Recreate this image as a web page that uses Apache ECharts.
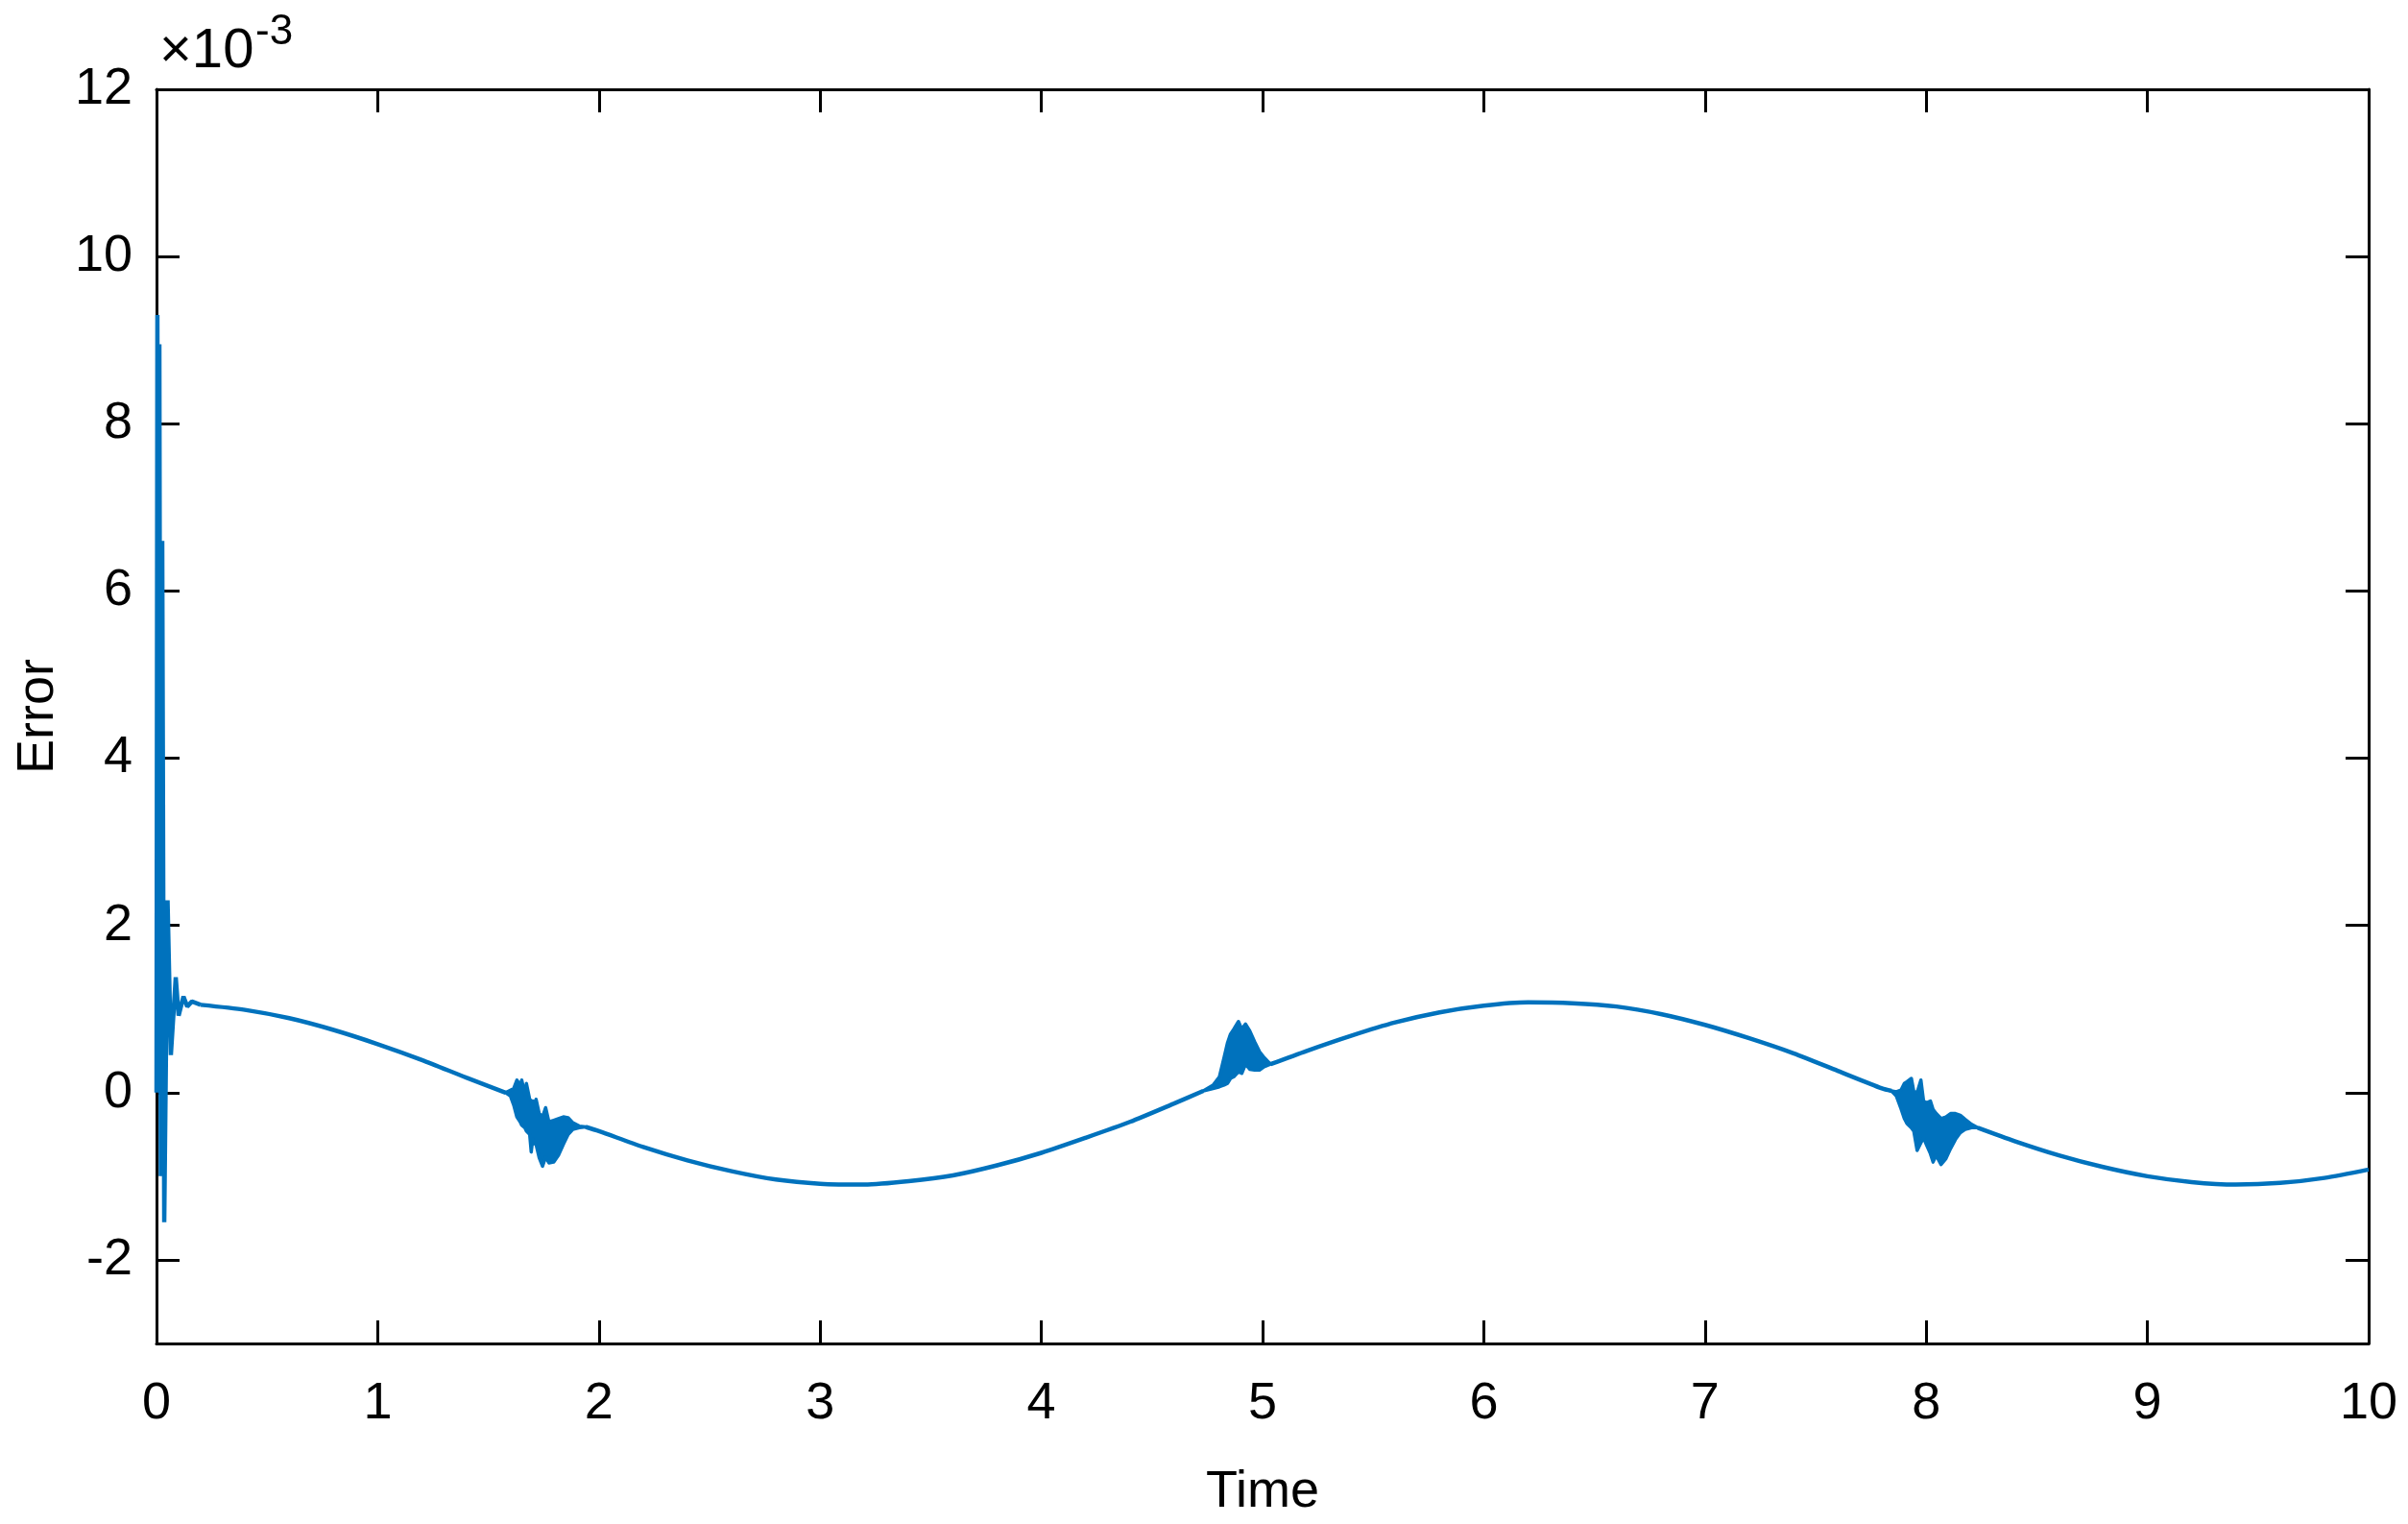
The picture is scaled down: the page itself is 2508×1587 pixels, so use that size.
<!DOCTYPE html>
<html>
<head>
<meta charset="utf-8">
<title>Error vs Time</title>
<script src="https://cdn.jsdelivr.net/npm/echarts@6/dist/echarts.min.js"></script>
<style>
  html, body { margin: 0; padding: 0; background: #fff; }
  #chart { width: 2508px; height: 1587px; }
</style>
</head>
<body>
<div id="chart"></div>
<script>
// values are in units of 1e-3 (the axis carries the x10^-3 factor)
var xTicks = [0, 1, 2, 3, 4, 5, 6, 7, 8, 9, 10]
var yTicks = [-2, 0, 2, 4, 6, 8, 10, 12]

// start-up transient
var startTime = [0, 0.004, 0.008, 0.013, 0.0195, 0.026, 0.035, 0.05, 0.065, 0.087, 0.1, 0.122, 0.139, 0.16, 0.2]
var startErr = [0, 9.3, 3.5, 8.95, -1.0, 6.6, -1.55, 2.3, 0.45, 1.38, 0.92, 1.15, 1.03, 1.09, 1.05]

// the slow wave (null = gap under a burst)
var waveTime = [0.2, 0.4, 0.6, 0.8, 1.0, 1.2, 1.4, 1.578, 1.7, 1.94,
  2.0, 2.2, 2.4, 2.6, 2.8, 3.0, 3.2, 3.4, 3.6, 3.8, 4.0, 4.2, 4.4, 4.6, 4.732, 4.9, 5.036,
  5.2, 5.4, 5.6, 5.8, 6.0, 6.2, 6.4, 6.6, 6.8, 7.0, 7.2, 7.4, 7.6, 7.8, 7.843, 8.0, 8.233,
  8.4, 8.6, 8.8, 9.0, 9.2, 9.4, 9.6, 9.8, 10.0]
var waveErr = [1.05, 0.99, 0.89, 0.75, 0.58, 0.39, 0.18, 0.0, null, -0.41,
  -0.46, -0.65, -0.81, -0.94, -1.04, -1.09, -1.10, -1.06, -0.99, -0.87, -0.72, -0.54, -0.35, -0.13, 0.02, null, 0.34,
  0.50, 0.68, 0.84, 0.96, 1.04, 1.08, 1.07, 1.03, 0.94, 0.81, 0.65, 0.47, 0.26, 0.05, 0.02, null, -0.42,
  -0.58, -0.75, -0.89, -1.00, -1.07, -1.10, -1.08, -1.02, -0.92]

// the three ringing bursts, drawn as lower / upper envelopes
var burst1Time = [1.578, 1.600, 1.615, 1.629, 1.644, 1.651, 1.665, 1.672, 1.687, 1.694, 1.701, 1.708, 1.716, 1.730, 1.745, 1.759, 1.774, 1.796, 1.817, 1.839, 1.861, 1.882, 1.911, 1.940]
var burst1Low = [0.00, -0.04, -0.15, -0.29, -0.35, -0.39, -0.42, -0.46, -0.50, -0.71, -0.55, -0.61, -0.62, -0.78, -0.88, -0.77, -0.84, -0.83, -0.75, -0.62, -0.50, -0.44, -0.42, -0.41]
var burst1High = [0.00, 0.03, 0.05, 0.15, 0.09, 0.15, -0.02, 0.11, -0.08, -0.10, -0.10, -0.16, -0.08, -0.25, -0.29, -0.18, -0.35, -0.33, -0.31, -0.29, -0.30, -0.36, -0.40, -0.41]

var burst2Time = [4.732, 4.776, 4.805, 4.826, 4.841, 4.855, 4.870, 4.891, 4.906, 4.923, 4.942, 4.964, 4.986, 5.007, 5.036]
var burst2Low = [0.02, 0.05, 0.07, 0.09, 0.11, 0.17, 0.19, 0.25, 0.23, 0.34, 0.28, 0.27, 0.27, 0.31, 0.34]
var burst2High = [0.02, 0.09, 0.19, 0.42, 0.59, 0.70, 0.76, 0.85, 0.76, 0.82, 0.74, 0.61, 0.49, 0.42, 0.34]

var burst3Time = [7.843, 7.865, 7.886, 7.901, 7.913, 7.933, 7.944, 7.959, 7.976, 7.988, 8.002, 8.019, 8.031, 8.045, 8.067, 8.089, 8.110, 8.132, 8.154, 8.176, 8.205, 8.233]
var burst3Low = [0.02, -0.04, -0.19, -0.31, -0.37, -0.42, -0.46, -0.69, -0.60, -0.54, -0.63, -0.73, -0.83, -0.75, -0.86, -0.79, -0.67, -0.56, -0.48, -0.44, -0.42, -0.42]
var burst3High = [0.02, 0.01, 0.03, 0.11, 0.13, 0.17, 0.01, 0.00, 0.15, -0.10, -0.12, -0.10, -0.20, -0.25, -0.31, -0.29, -0.25, -0.25, -0.27, -0.32, -0.38, -0.42]

var blue = '#0072BD'
var font = "'Liberation Sans', Arial, sans-serif"

function pairs (xs, ys) {
  return xs.map(function (x, i) { return [x, ys[i]] })
}

// filled polygon between the lower and upper envelope of a burst
function band (ts, lo, hi) {
  return {
    type: 'custom',
    silent: true,
    clip: true,
    data: pairs(ts, lo),
    encode: { x: 0, y: 1 },
    renderItem: function (params, api) {
      if (params.dataIndex !== 0) return
      var pts = []
      var i
      for (i = 0; i < ts.length; i++) pts.push(api.coord([ts[i], hi[i]]))
      for (i = ts.length - 1; i >= 0; i--) pts.push(api.coord([ts[i], lo[i]]))
      return {
        type: 'polygon',
        shape: { points: pts },
        style: { fill: blue, stroke: blue, lineWidth: 3.5, lineJoin: 'round' }
      }
    }
  }
}

var axisLine = { show: true, onZero: false, lineStyle: { color: '#000', width: 3 } }
var tick = { show: true, inside: true, length: 24, lineStyle: { color: '#000', width: 3 } }
var labelStyle = { fontSize: 54, color: '#000', fontFamily: font }

var chart = echarts.init(document.getElementById('chart'))
chart.setOption({
  animation: false,
  backgroundColor: '#fff',
  grid: { left: 163, right: 41, top: 93, bottom: 188 },
  xAxis: [
    {
      type: 'value', min: 0, max: 10, interval: 1,
      axisLine: axisLine, axisTick: tick, splitLine: { show: false },
      axisLabel: Object.assign({ margin: 36 }, labelStyle),
      name: 'Time', nameLocation: 'middle', nameGap: 128,
      nameTextStyle: labelStyle
    },
    {
      type: 'value', position: 'top', min: 0, max: 10, interval: 1,
      axisLine: axisLine, axisTick: tick, axisLabel: { show: false }, splitLine: { show: false }
    }
  ],
  yAxis: [
    {
      type: 'value', min: -3, max: 12,
      axisLine: axisLine,
      axisTick: Object.assign({ customValues: yTicks }, tick),
      axisLabel: Object.assign({ customValues: yTicks, margin: 25 }, labelStyle),
      splitLine: { show: false },
      name: 'Error', nameLocation: 'middle', nameGap: 82,
      nameTextStyle: labelStyle
    },
    {
      type: 'value', position: 'right', min: -3, max: 12,
      axisLine: axisLine,
      axisTick: Object.assign({ customValues: yTicks }, tick),
      axisLabel: { show: false }, splitLine: { show: false }
    }
  ],
  graphic: [
    { type: 'text', left: 166, top: 25, style: { text: '×10', fontSize: 58, fontFamily: font, fill: '#000' } },
    { type: 'text', left: 266, top: 12, style: { text: '-3', fontSize: 44, fontFamily: font, fill: '#000' } }
  ],
  series: [
    {
      name: 'start',
      type: 'line',
      symbol: 'none',
      lineStyle: { color: blue, width: 4.5 },
      data: pairs(startTime, startErr)
    },
    {
      name: 'wave',
      type: 'line',
      symbol: 'none',
      smooth: 0.25,
      connectNulls: false,
      lineStyle: { color: blue, width: 4.5 },
      data: pairs(waveTime, waveErr)
    },
    band(burst1Time, burst1Low, burst1High),
    band(burst2Time, burst2Low, burst2High),
    band(burst3Time, burst3Low, burst3High)
  ]
})
</script>
</body>
</html>
